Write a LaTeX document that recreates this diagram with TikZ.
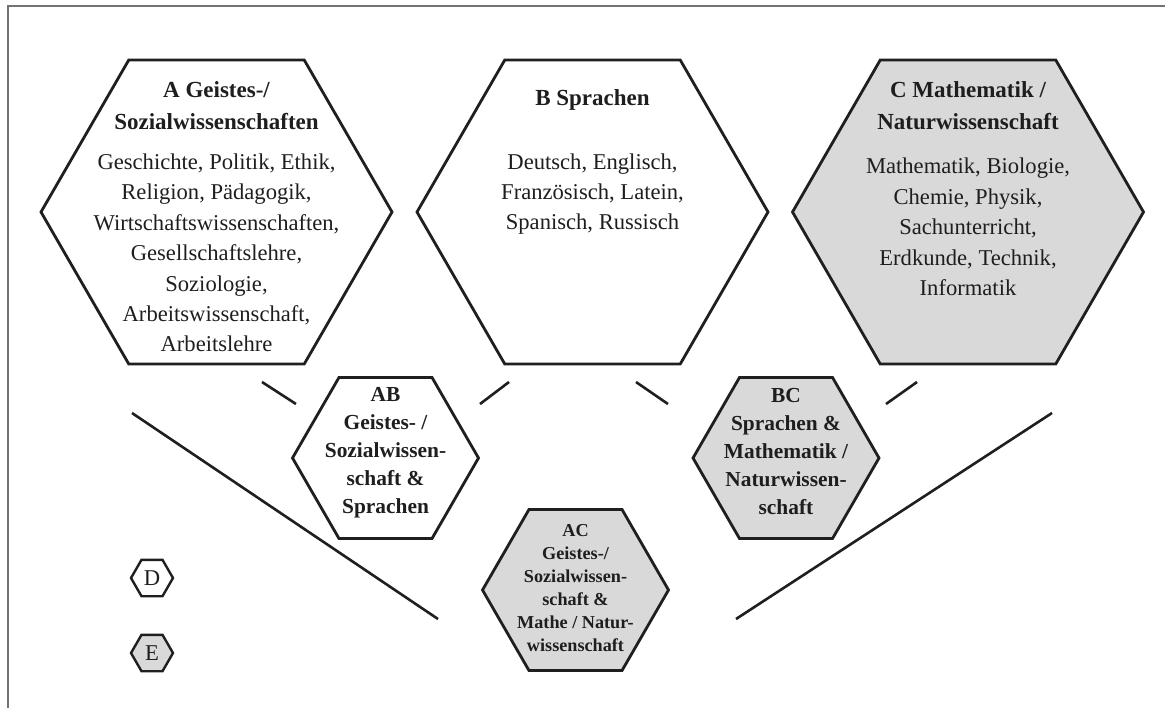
\documentclass[tikz,border=0pt]{standalone}
\usepackage{fontspec}
\setmainfont{Liberation Serif}
\usetikzlibrary{shapes.geometric}

\definecolor{hexfill}{RGB}{217,217,217}
\definecolor{txt}{RGB}{30,30,30}

\tikzset{
    hex/.style={regular polygon, regular polygon sides=6, draw=black!88, line width=1.4pt, inner sep=0pt},
    hexbig/.style={hex, minimum size=175.5pt},
    hexmid/.style={hex, minimum size=93pt},
    hexsmall/.style={hex, minimum size=21pt, line width=1.2pt},
    shaded/.style={fill=hexfill},
    title/.style={text=txt, align=center, font=\bfseries\fontsize{11.5}{16}\selectfont},
    body/.style={text=txt, align=center, font=\fontsize{11.3}{15.2}\selectfont},
    midtext/.style={text=txt, align=center, font=\bfseries\fontsize{10.7}{14}\selectfont},
    smalltext/.style={text=txt, align=center, font=\bfseries\fontsize{9.1}{11.5}\selectfont},
    tick/.style={black!88, line width=1.3pt},
}

\begin{document}
\begin{tikzpicture}[x=0.5pt, y=-0.5pt]
    \useasboundingbox (0,0) rectangle (1165,707);

    % draw frame
    \draw[black!55, line width=1pt] (8,730) -- (8,6) -- (1180,6);

    % draw big hexagons
    \node[hexbig] (A) at (216.5,212) {};
    \node[hexbig] (B) at (592.5,212) {};
    \node[hexbig, shaded] (C) at (968,212) {};

    \node[title] (Atitle) at (216.5,106) {A Geistes-/\\Sozialwissenschaften};
    \node[body] (Abody) at (216.5,253) {Geschichte, Politik, Ethik,\\Religion, Pädagogik,\\Wirtschaftswissenschaften,\\Gesellschaftslehre,\\Soziologie,\\Arbeitswissenschaft,\\Arbeitslehre};

    \node[title] (Btitle) at (592.5,100) {B Sprachen};
    \node[body] (Bbody) at (592.5,194) {Deutsch, Englisch,\\Französisch, Latein,\\Spanisch, Russisch};

    \node[title] (Ctitle) at (968,106) {C Mathematik /\\Naturwissenschaft};
    \node[body] (Cbody) at (968,227) {Mathematik, Biologie,\\Chemie, Physik,\\Sachunterricht,\\Erdkunde, Technik,\\Informatik};

    % draw overlap hexagons
    \node[hexmid] (AB) at (385.5,458) {};
    \node[hexmid, shaded] (BC) at (786,458) {};
    \node[hexmid, shaded] (AC) at (575.5,590) {};

    \node[midtext] (ABtext) at (385.5,453) {AB\\Geistes- /\\Sozialwissen-\\schaft \&\\Sprachen};
    \node[midtext] (BCtext) at (786,452) {BC\\Sprachen \&\\Mathematik /\\Naturwissen-\\schaft};
    \node[smalltext] (ACtext) at (575.5,588) {AC\\Geistes-/\\Sozialwissen-\\schaft \&\\Mathe / Natur-\\wissenschaft};

    % draw legend
    \node[hexsmall] (D) at (152,578) {};
    \node[hexsmall, shaded] (E) at (152,653) {};
    \node[body] (Dtext) at (D.center) {D};
    \node[body] (Etext) at (E.center) {E};

    % draw ticks and funnel lines
    \foreach \n/\xa/\ya/\xb/\yb in {1/262/382/296/404, 2/480/404/509/382, 3/636/382/668/404, 4/886/404/917/382, 5/132/413/438/619, 6/736/619/1052/413}
    {
        \coordinate (t\n a) at (\xa,\ya);
        \coordinate (t\n b) at (\xb,\yb);
        \draw[tick] (t\n a) -- (t\n b);
    }
\end{tikzpicture}
\end{document}
